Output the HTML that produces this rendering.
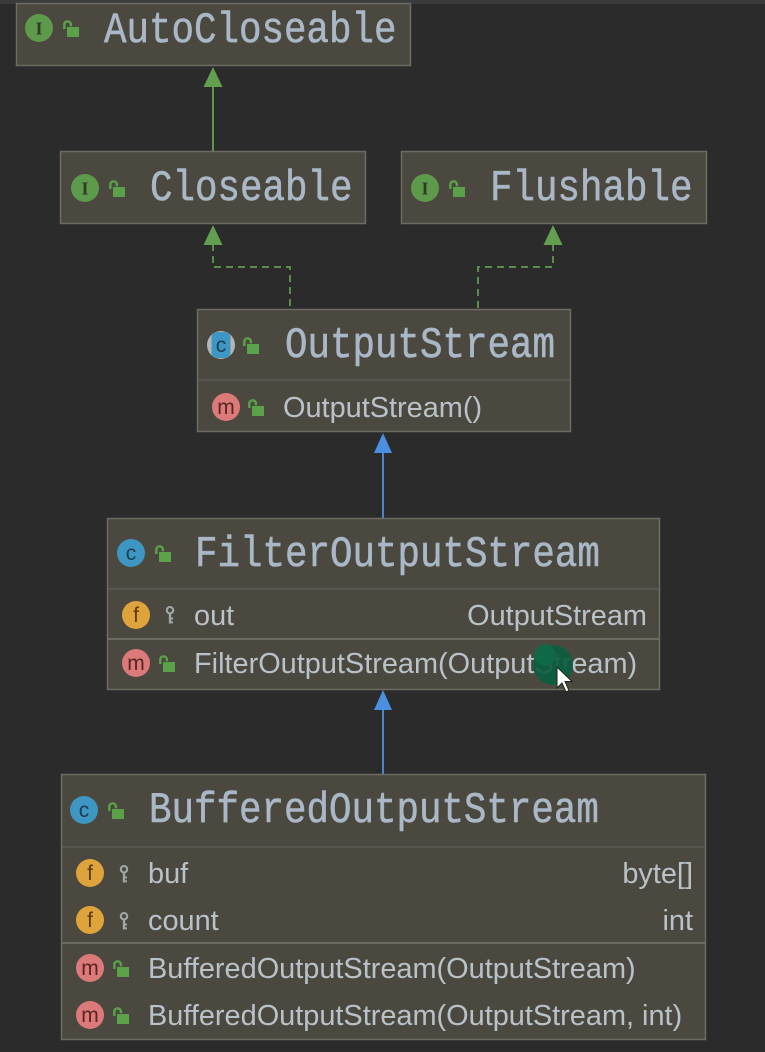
<!DOCTYPE html>
<html>
<head>
<meta charset="utf-8">
<style>
  html,body{margin:0;padding:0;background:#2b2b2b;}
  svg{display:block;}
  .title{font-family:"Liberation Mono",monospace;font-size:37.5px;fill:#a9b7c6;stroke:#a9b7c6;stroke-width:0.5px;}
  .body{font-family:"Liberation Sans",sans-serif;font-size:28.9px;fill:#b9c1c9;}
  .ic{font-family:"Liberation Sans",sans-serif;font-size:21px;text-anchor:middle;}
  .icI{font-family:"Liberation Serif",serif;font-size:18px;font-weight:bold;text-anchor:middle;fill:#2d3d24;}
</style>
</head>
<body>
<svg width="765" height="1052" viewBox="0 0 765 1052" xmlns="http://www.w3.org/2000/svg">
  <defs>
    <g id="lock">
      <path d="M1.3,9 V4.6 A3.3,3.3 0 0 1 7.9,4.6 V6.2" fill="none" stroke="#5aa14a" stroke-width="2.4"/>
      <rect x="4" y="7" width="12" height="10" fill="#5aa14a"/>
    </g>
    <g id="key">
      <circle cx="5" cy="4.2" r="3.2" fill="none" stroke="#9ea7aa" stroke-width="2.1"/>
      <line x1="5" y1="7" x2="5" y2="17.5" stroke="#9ea7aa" stroke-width="2.3"/>
      <line x1="5" y1="12.5" x2="8" y2="12.5" stroke="#9ea7aa" stroke-width="2"/>
      <line x1="5" y1="16.3" x2="8" y2="16.3" stroke="#9ea7aa" stroke-width="2"/>
    </g>
  </defs>

  <rect x="0" y="0" width="765" height="1052" fill="#2b2b2b"/>
  <rect x="0" y="0" width="765" height="4" fill="#3a3b3c"/>

  <!-- Connectors -->
  <g>
    <line x1="213" y1="86" x2="213" y2="151" stroke="#5f9350" stroke-width="2"/>
    <polygon points="213,67 203.5,87 222.5,87" fill="#62a04f"/>

    <path d="M213,244 V267 H290 V309" fill="none" stroke="#5c8c49" stroke-width="2" stroke-dasharray="7,5"/>
    <polygon points="213,225 203.5,245 222.5,245" fill="#62a04f"/>

    <path d="M553,244 V267 H478 V309" fill="none" stroke="#5c8c49" stroke-width="2" stroke-dasharray="7,5"/>
    <polygon points="553,225 543.5,245 562.5,245" fill="#62a04f"/>

    <line x1="383" y1="452" x2="383" y2="518" stroke="#4a86d0" stroke-width="2"/>
    <polygon points="383,433 374,453 392,453" fill="#4b8fe0"/>

    <line x1="383" y1="709" x2="383" y2="774" stroke="#4a86d0" stroke-width="2"/>
    <polygon points="383,690 374,710 392,710" fill="#4b8fe0"/>
  </g>

  <!-- AutoCloseable -->
  <rect x="16.5" y="3.5" width="394" height="62" fill="#4b493f" stroke="#6d6b64" stroke-width="1.5"/>
  <circle cx="39" cy="28" r="14" fill="#5e9a4c"/>
  <text class="icI" x="39" y="34.5">I</text>
  <use href="#lock" x="63" y="20"/>
  <text class="title" transform="translate(104,42) scale(1,1.17)" x="0" y="0">AutoCloseable</text>

  <!-- Closeable -->
  <rect x="60.5" y="151.5" width="305" height="72" fill="#4b493f" stroke="#6d6b64" stroke-width="1.5"/>
  <circle cx="85" cy="188" r="14" fill="#5e9a4c"/>
  <text class="icI" x="85" y="194.5">I</text>
  <use href="#lock" x="109" y="180"/>
  <text class="title" transform="translate(150,200) scale(1,1.17)" x="0" y="0">Closeable</text>

  <!-- Flushable -->
  <rect x="401.5" y="151.5" width="305" height="72" fill="#4b493f" stroke="#6d6b64" stroke-width="1.5"/>
  <circle cx="425" cy="188" r="14" fill="#5e9a4c"/>
  <text class="icI" x="425" y="194.5">I</text>
  <use href="#lock" x="449" y="180"/>
  <text class="title" transform="translate(490,200) scale(1,1.17)" x="0" y="0">Flushable</text>

  <!-- OutputStream -->
  <rect x="197.5" y="309.5" width="373" height="122" fill="#4b493f" stroke="#6d6b64" stroke-width="1.5"/>
  <line x1="198" y1="380" x2="570" y2="380" stroke="#5d5b53" stroke-width="1.5"/>
  <circle cx="221" cy="345" r="14" fill="#b5b5b5"/>
  <rect x="211.5" y="332" width="19" height="26" rx="5" fill="#3d97c2"/>
  <text class="ic" x="221" y="352" fill="#1d3b55">c</text>
  <use href="#lock" x="243" y="337"/>
  <text class="title" transform="translate(285,357) scale(1,1.17)" x="0" y="0">OutputStream</text>
  <circle cx="226" cy="407" r="14" fill="#db7a78"/>
  <text class="ic" x="226" y="414" fill="#5b2424">m</text>
  <use href="#lock" x="248" y="399"/>
  <text class="body" x="283" y="417">OutputStream()</text>

  <!-- FilterOutputStream -->
  <rect x="107.5" y="518.5" width="552" height="171" fill="#4b493f" stroke="#6d6b64" stroke-width="1.5"/>
  <line x1="108" y1="589" x2="659" y2="589" stroke="#5d5b53" stroke-width="1.5"/>
  <line x1="108" y1="639" x2="659" y2="639" stroke="#77756d" stroke-width="1.5"/>
  <circle cx="131" cy="553" r="14" fill="#3d97c2"/>
  <text class="ic" x="131" y="560" fill="#1d3b55">c</text>
  <use href="#lock" x="155" y="545"/>
  <text class="title" transform="translate(195,566) scale(1,1.17)" x="0" y="0">FilterOutputStream</text>
  <circle cx="136" cy="615" r="14" fill="#dfa33c"/>
  <text class="ic" x="136" y="622" fill="#5a3a0a">f</text>
  <use href="#key" x="165" y="606"/>
  <text class="body" x="194" y="625">out</text>
  <text class="body" x="647" y="625" text-anchor="end">OutputStream</text>
  <circle cx="136" cy="663" r="14" fill="#db7a78"/>
  <text class="ic" x="136" y="670" fill="#5b2424">m</text>
  <use href="#lock" x="159" y="655"/>
  <text class="body" x="194" y="673">FilterOutputStream(OutputStream)</text>

  <!-- cursor blob -->
  <circle cx="553" cy="665" r="20" fill="#0c5e40" opacity="0.92"/>
  <circle cx="545" cy="655" r="11" fill="#0f6b48" opacity="0.85"/>
  <circle cx="560" cy="676" r="10" fill="#0c5e40" opacity="0.85"/>
  <path d="M557,667 L557,688 L562,683 L566,692 L569,690.5 L565,681.5 L572,681.5 Z" fill="#ffffff" stroke="#222" stroke-width="1"/>

  <!-- BufferedOutputStream -->
  <rect x="61.5" y="774.5" width="644" height="265" fill="#4b493f" stroke="#6d6b64" stroke-width="1.5"/>
  <line x1="62" y1="847" x2="705" y2="847" stroke="#5d5b53" stroke-width="1.5"/>
  <line x1="62" y1="943" x2="705" y2="943" stroke="#77756d" stroke-width="1.5"/>
  <circle cx="84" cy="810" r="14" fill="#3d97c2"/>
  <text class="ic" x="84" y="817" fill="#1d3b55">c</text>
  <use href="#lock" x="108" y="802"/>
  <text class="title" transform="translate(149,822) scale(1,1.17)" x="0" y="0">BufferedOutputStream</text>

  <circle cx="90" cy="873" r="14" fill="#dfa33c"/>
  <text class="ic" x="90" y="880" fill="#5a3a0a">f</text>
  <use href="#key" x="119" y="865"/>
  <text class="body" x="148" y="883">buf</text>
  <text class="body" x="693" y="883" text-anchor="end">byte[]</text>

  <circle cx="90" cy="920" r="14" fill="#dfa33c"/>
  <text class="ic" x="90" y="927" fill="#5a3a0a">f</text>
  <use href="#key" x="119" y="912"/>
  <text class="body" x="148" y="930">count</text>
  <text class="body" x="693" y="930" text-anchor="end">int</text>

  <circle cx="90" cy="968" r="14" fill="#db7a78"/>
  <text class="ic" x="90" y="975" fill="#5b2424">m</text>
  <use href="#lock" x="113" y="960"/>
  <text class="body" x="148" y="978">BufferedOutputStream(OutputStream)</text>

  <circle cx="90" cy="1015" r="14" fill="#db7a78"/>
  <text class="ic" x="90" y="1022" fill="#5b2424">m</text>
  <use href="#lock" x="113" y="1007"/>
  <text class="body" x="148" y="1025">BufferedOutputStream(OutputStream, int)</text>
</svg>
</body>
</html>
